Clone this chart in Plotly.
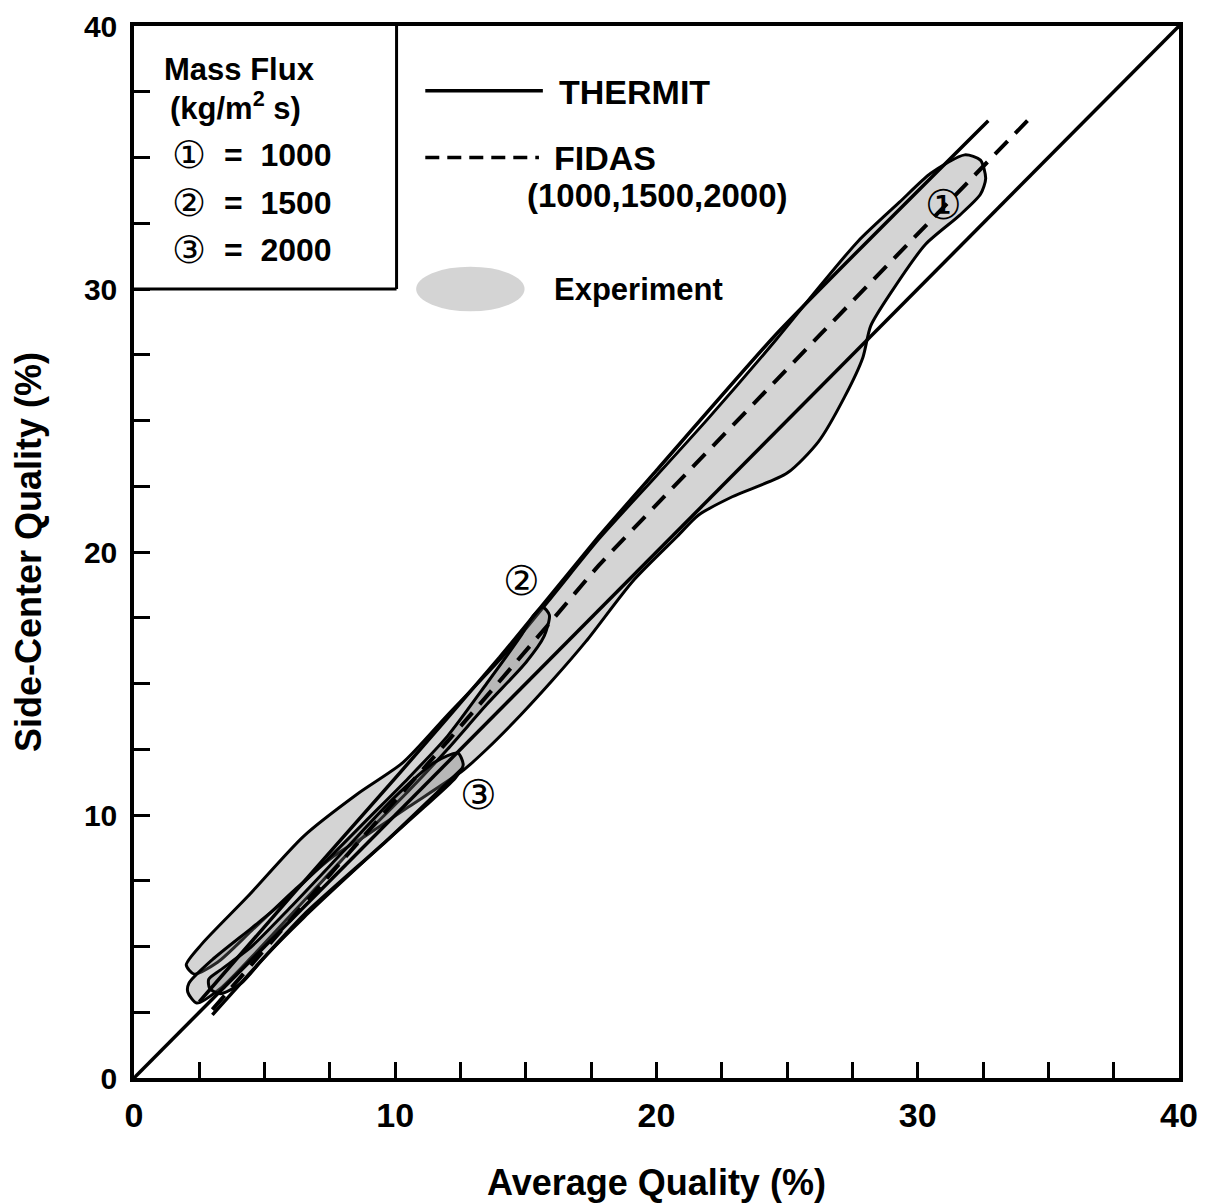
import plotly.graph_objects as go

# ---------------- data ----------------
# Experiment envelopes (closed outlines), mass flux 1000 / 1500 / 2000 kg/m2s
exp1000_x = [2.0, 2.6, 4.35, 6.5, 8.55, 10.3, 12.0, 14.0, 16.0, 17.8, 20.0, 22.0, 24.6, 26.0, 27.7, 29.3,
             30.5, 31.8, 32.4, 32.6, 32.4, 31.6, 30.3, 29.0, 28.2, 27.9, 27.2, 26.2, 25.0, 22.9, 21.6,
             20.8, 19.1, 17.3, 16.0, 14.8, 13.5, 12.6, 10.5, 9.0, 7.6, 6.2, 4.5, 3.2, 2.3, 2.0]
exp1000_y = [4.3, 5.1, 6.9, 9.2, 10.8, 12.0, 13.8, 15.9, 18.3, 20.5, 22.9, 25.1, 28.1, 29.8, 31.8, 33.3,
             34.4, 35.1, 34.9, 34.2, 33.6, 32.8, 31.7, 29.9, 28.6, 27.4, 25.9, 24.2, 23.0, 22.1, 21.4,
             20.6, 18.9, 16.6, 15.1, 13.8, 12.5, 11.7, 10.3, 9.3, 8.4, 7.2, 5.6, 4.4, 3.95, 4.3]

exp1500_x = [2.06, 2.1, 3.0, 4.5, 5.6, 7.4, 9.0, 10.5, 12.0, 13.5, 14.8, 15.3, 15.65, 15.9, 15.7, 15.0,
             13.5, 12.0, 10.5, 9.0, 7.5, 6.0, 4.5, 3.3, 2.4, 2.06]
exp1500_y = [3.26, 3.6, 4.5, 5.7, 6.6, 8.3, 9.9, 11.4, 13.0, 15.0, 16.8, 17.6, 17.9, 17.6, 16.8, 15.8,
             14.2, 12.5, 10.9, 9.4, 7.8, 6.2, 4.6, 3.4, 2.85, 3.26]

exp2000_x = [2.86, 3.3, 4.5, 6.0, 8.0, 10.0, 11.5, 12.4, 12.6, 12.3, 11.0, 9.7, 8.0, 6.5, 5.0, 4.1, 3.3, 2.9, 2.86]
exp2000_y = [3.75, 4.1, 5.0, 6.5, 8.6, 10.7, 12.0, 12.35, 11.9, 11.4, 10.2, 9.05, 7.5, 6.1, 4.6, 3.6, 3.2, 3.4, 3.75]

# THERMIT predictions (solid)
thermit_hi_x = [2.5, 6.0, 10.0, 14.0, 17.8, 20.0, 24.6, 32.7]
thermit_hi_y = [2.9, 6.9, 11.4, 16.0, 20.6, 23.1, 28.3, 36.4]
thermit_lo_x = [3.0, 6.5, 9.7, 12.6]
thermit_lo_y = [2.4, 6.2, 9.05, 11.8]

# FIDAS prediction (dashed), 1000/1500/2000
fidas_x = [3.0, 8.0, 12.0, 16.0, 17.8, 20.0, 26.3, 34.2]
fidas_y = [2.6, 8.3, 12.8, 17.4, 19.5, 21.8, 28.3, 36.4]

# 45-degree reference line
diag_x = [0, 40]
diag_y = [0, 40]

# circled labels on the envelopes
label_text = ["①", "②", "③"]
label_x = [31.0, 14.85, 13.2]
label_y = [33.2, 18.9, 10.75]

# axis ticks
tick_vals = [0, 10, 20, 30, 40]
tick_text = ["0", "10", "20", "30", "40"]

# legend entries
flux_mark = ["①", "②", "③"]
flux_text = ["=  1000", "=  1500", "=  2000"]
flux_y = [35.08, 33.27, 31.48]

FONT = "Liberation Sans, Arial, Helvetica, sans-serif"
CIRC = "DejaVu Sans, Noto Sans CJK SC, sans-serif"
FILL = "rgba(120,120,120,0.32)"

fig = go.Figure()

for bx, by in [(exp1000_x, exp1000_y), (exp1500_x, exp1500_y), (exp2000_x, exp2000_y)]:
    fig.add_trace(go.Scatter(x=bx, y=by, mode="lines", fill="toself", fillcolor=FILL,
                             line=dict(color="black", width=3, shape="spline", smoothing=0.7),
                             showlegend=False, hoverinfo="skip"))

fig.add_trace(go.Scatter(x=diag_x, y=diag_y, mode="lines",
                         line=dict(color="black", width=3.5), showlegend=False))
fig.add_trace(go.Scatter(x=thermit_hi_x, y=thermit_hi_y, mode="lines",
                         line=dict(color="black", width=3.5, shape="spline", smoothing=0.5), showlegend=False))
fig.add_trace(go.Scatter(x=thermit_lo_x, y=thermit_lo_y, mode="lines",
                         line=dict(color="black", width=3.5, shape="spline", smoothing=0.5), showlegend=False))
fig.add_trace(go.Scatter(x=fidas_x, y=fidas_y, mode="lines",
                         line=dict(color="black", width=4, dash="18px,11px", shape="spline", smoothing=0.5),
                         showlegend=False))

annotations = []
for t, x, y in zip(label_text, label_x, label_y):
    annotations.append(dict(x=x, y=y, text=t, showarrow=False, xanchor="center", yanchor="middle",
                            font=dict(family=CIRC, size=41, color="black")))

# legend box texts
annotations.append(dict(x=4.05, y=38.35, text="Mass Flux", showarrow=False, xanchor="center", yanchor="middle",
                        font=dict(family=FONT, size=31, color="black", weight="bold")))
annotations.append(dict(x=3.9, y=36.95, text="(kg/m<sup>2</sup> s)", showarrow=False, xanchor="center",
                        yanchor="middle", font=dict(family=FONT, size=31, color="black", weight="bold")))
for m, t, y in zip(flux_mark, flux_text, flux_y):
    annotations.append(dict(x=2.1, y=y, text=m, showarrow=False, xanchor="center", yanchor="middle",
                            font=dict(family=CIRC, size=38, color="black")))
    annotations.append(dict(x=3.35, y=y, text=t, showarrow=False, xanchor="left", yanchor="middle",
                            font=dict(family=FONT, size=32, color="black", weight="bold")))

# line legend texts
annotations.append(dict(x=16.2, y=37.48, text="THERMIT", showarrow=False, xanchor="left", yanchor="middle",
                        font=dict(family=FONT, size=34, color="black", weight="bold")))
annotations.append(dict(x=16.0, y=34.98, text="FIDAS", showarrow=False, xanchor="left", yanchor="middle",
                        font=dict(family=FONT, size=34, color="black", weight="bold")))
annotations.append(dict(x=14.95, y=33.55, text="(1000,1500,2000)", showarrow=False, xanchor="left",
                        yanchor="middle", font=dict(family=FONT, size=33, color="black", weight="bold")))
annotations.append(dict(x=16.0, y=30.0, text="Experiment", showarrow=False, xanchor="left", yanchor="middle",
                        font=dict(family=FONT, size=31, color="black", weight="bold")))

shapes = [
    # legend box (right and bottom edges)
    dict(type="line", xref="x", yref="y", x0=10.05, x1=10.05, y0=30.0, y1=40, line=dict(color="black", width=3)),
    dict(type="line", xref="x", yref="y", x0=0, x1=10.05, y0=30.0, y1=30.0, line=dict(color="black", width=3)),
    # line legend samples
    dict(type="line", xref="x", yref="y", x0=11.15, x1=15.65, y0=37.54, y1=37.54, line=dict(color="black", width=3.5)),
    dict(type="line", xref="x", yref="y", x0=11.15, x1=15.5, y0=35.0, y1=35.0,
         line=dict(color="black", width=3.5, dash="14px,8px")),
    # experiment swatch
    dict(type="circle", xref="x", yref="y", x0=10.8, x1=14.95, y0=29.15, y1=30.85,
         fillcolor=FILL, line=dict(width=0)),
]

axis_common = dict(range=[0, 40], showgrid=False, zeroline=False, showline=True, linecolor="black",
                   linewidth=3.5, mirror=True, ticks="inside", ticklen=16, tickwidth=2.5, tickcolor="black",
                   tickvals=tick_vals, ticktext=tick_text, automargin=False, ticklabeloverflow="allow",
                   minor=dict(ticks="inside", ticklen=16, tickwidth=2.5, tickcolor="black", dtick=2.5,
                              tick0=0, showgrid=False))

fig.update_layout(
    width=1200, height=1196,
    margin=dict(l=126, r=29, t=18, b=126),
    paper_bgcolor="white", plot_bgcolor="white",
    showlegend=False,
    xaxis=dict(**axis_common,
               tickfont=dict(family=FONT, size=34, color="black", weight="bold"),
               title=dict(text="Average Quality (%)", standoff=38,
                          font=dict(family=FONT, size=36, color="black", weight="bold")),
               ticklabelstandoff=4),
    yaxis=dict(**axis_common,
               tickfont=dict(family=FONT, size=30, color="black", weight="bold"),
               title=dict(text="Side-Center Quality (%)", standoff=32,
                          font=dict(family=FONT, size=36, color="black", weight="bold")),
               ticklabelstandoff=7),
    annotations=annotations,
    shapes=shapes,
)

fig.write_html("out.html")
